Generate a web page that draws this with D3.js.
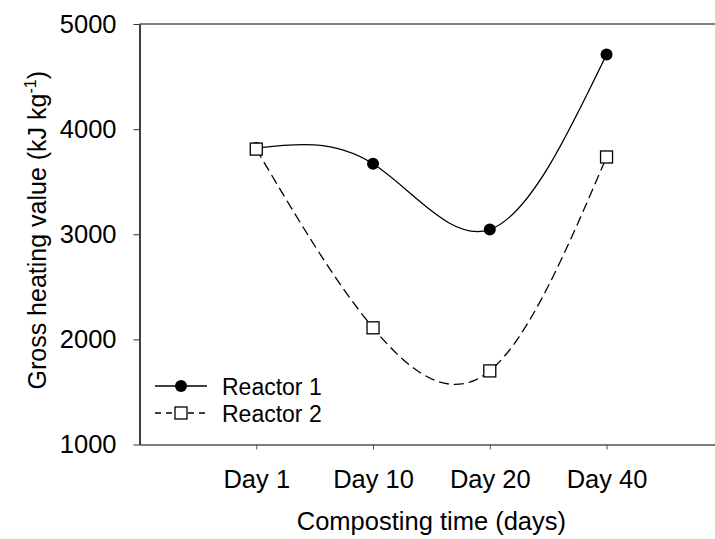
<!DOCTYPE html>
<html>
<head>
<meta charset="utf-8">
<script src="https://cdn.jsdelivr.net/npm/d3@7"></script>
<style>
  html, body { margin: 0; padding: 0; background: #fff; }
  svg { display: block; font-family: "Liberation Sans", Arial, sans-serif; }
</style>
</head>
<body>
<div id="chart"></div>
<script>
const width = 715;
const height = 539;

const days = ["Day 1", "Day 10", "Day 20", "Day 40"];
const reactor1 = [3820, 3670, 3045, 4710];
const reactor2 = [3810, 2110, 1700, 3735];
const yTicks = [1000, 2000, 3000, 4000, 5000];

const margin = { left: 139.5, right: 723.3, top: 24, bottom: 444.5 };

const svg = d3
  .select("#chart")
  .append("svg")
  .attr("width", width)
  .attr("height", height);

const xScale = d3
  .scalePoint()
  .domain(days)
  .range([margin.left, margin.right])
  .padding(1);

const yScale = d3
  .scaleLinear()
  .domain([1000, 5000])
  .range([margin.bottom, margin.top]);

// top frame line
svg
  .append("line")
  .attr("x1", margin.left)
  .attr("x2", margin.right)
  .attr("y1", margin.top)
  .attr("y2", margin.top)
  .attr("stroke", "#555")
  .attr("stroke-width", 1.5);

// x axis
const xAxis = d3.axisBottom(xScale).tickSize(5).tickSizeOuter(0).tickPadding(20);
const gx = svg
  .append("g")
  .attr("transform", `translate(0, ${margin.bottom})`)
  .call(xAxis);
gx.attr("font-size", 25.5).attr("font-family", "Liberation Sans, Arial, sans-serif");
gx.select(".domain").attr("stroke", "#555").attr("stroke-width", 1.5);
gx.selectAll(".tick line").attr("stroke", "#555");
gx.selectAll(".tick text").attr("fill", "#000");

// y axis
const yAxis = d3
  .axisLeft(yScale)
  .tickValues(yTicks)
  .tickFormat(d3.format("d"))
  .tickSize(6)
  .tickSizeOuter(0)
  .tickPadding(17);
const gy = svg
  .append("g")
  .attr("transform", `translate(${margin.left}, 0)`)
  .call(yAxis);
gy.attr("font-size", 25.5).attr("font-family", "Liberation Sans, Arial, sans-serif");
gy.select(".domain").attr("stroke", "#000").attr("stroke-width", 1.5);
gy.selectAll(".tick line").attr("stroke", "#333");
gy.selectAll(".tick text").attr("fill", "#000");

// axis titles
svg
  .append("text")
  .attr("x", (margin.left + margin.right) / 2)
  .attr("y", 530)
  .attr("text-anchor", "middle")
  .attr("font-size", 25.5)
  .text("Composting time (days)");

const yTitle = svg
  .append("text")
  .attr("transform", `translate(46, ${(margin.top + margin.bottom) / 2 - 4}) rotate(-90)`)
  .attr("text-anchor", "middle")
  .attr("font-size", 25);
yTitle.append("tspan").text("Gross heating value (kJ kg");
yTitle.append("tspan").attr("font-size", 16).attr("dy", -10).text("-1");
yTitle.append("tspan").attr("dy", 10).text(")");

// curves
const line = d3
  .line()
  .x((d, i) => xScale(days[i]))
  .y((d) => yScale(d))
  .curve(d3.curveNatural);

svg
  .append("path")
  .datum(reactor1)
  .attr("d", line)
  .attr("fill", "none")
  .attr("stroke", "#000")
  .attr("stroke-width", 1.3);

svg
  .append("path")
  .datum(reactor2)
  .attr("d", line)
  .attr("fill", "none")
  .attr("stroke", "#000")
  .attr("stroke-width", 1.3)
  .attr("stroke-dasharray", "10,5");

// markers
svg
  .selectAll("circle.r1")
  .data(reactor1)
  .enter()
  .append("circle")
  .attr("class", "r1")
  .attr("cx", (d, i) => xScale(days[i]))
  .attr("cy", (d) => yScale(d))
  .attr("r", 6)
  .attr("fill", "#000");

const sq = 12;
svg
  .selectAll("rect.r2")
  .data(reactor2)
  .enter()
  .append("rect")
  .attr("class", "r2")
  .attr("x", (d, i) => xScale(days[i]) - sq / 2)
  .attr("y", (d) => yScale(d) - sq / 2)
  .attr("width", sq)
  .attr("height", sq)
  .attr("fill", "#fff")
  .attr("stroke", "#000")
  .attr("stroke-width", 1.3);

// legend
const legend = svg.append("g").attr("transform", "translate(155, 386)");
legend
  .append("line")
  .attr("x1", 0)
  .attr("x2", 52)
  .attr("stroke", "#000")
  .attr("stroke-width", 1.3);
legend.append("circle").attr("cx", 26).attr("r", 6).attr("fill", "#000");
legend
  .append("text")
  .attr("x", 67)
  .attr("y", 9)
  .attr("font-size", 23)
  .text("Reactor 1");

const legend2 = svg.append("g").attr("transform", "translate(155, 413)");
legend2
  .append("line")
  .attr("x1", 0)
  .attr("x2", 52)
  .attr("stroke", "#000")
  .attr("stroke-width", 1.3)
  .attr("stroke-dasharray", "6,5");
legend2
  .append("rect")
  .attr("x", 26 - sq / 2)
  .attr("y", -sq / 2)
  .attr("width", sq)
  .attr("height", sq)
  .attr("fill", "#fff")
  .attr("stroke", "#000")
  .attr("stroke-width", 1.3);
legend2
  .append("text")
  .attr("x", 67)
  .attr("y", 9)
  .attr("font-size", 23)
  .text("Reactor 2");
</script>
</body>
</html>
